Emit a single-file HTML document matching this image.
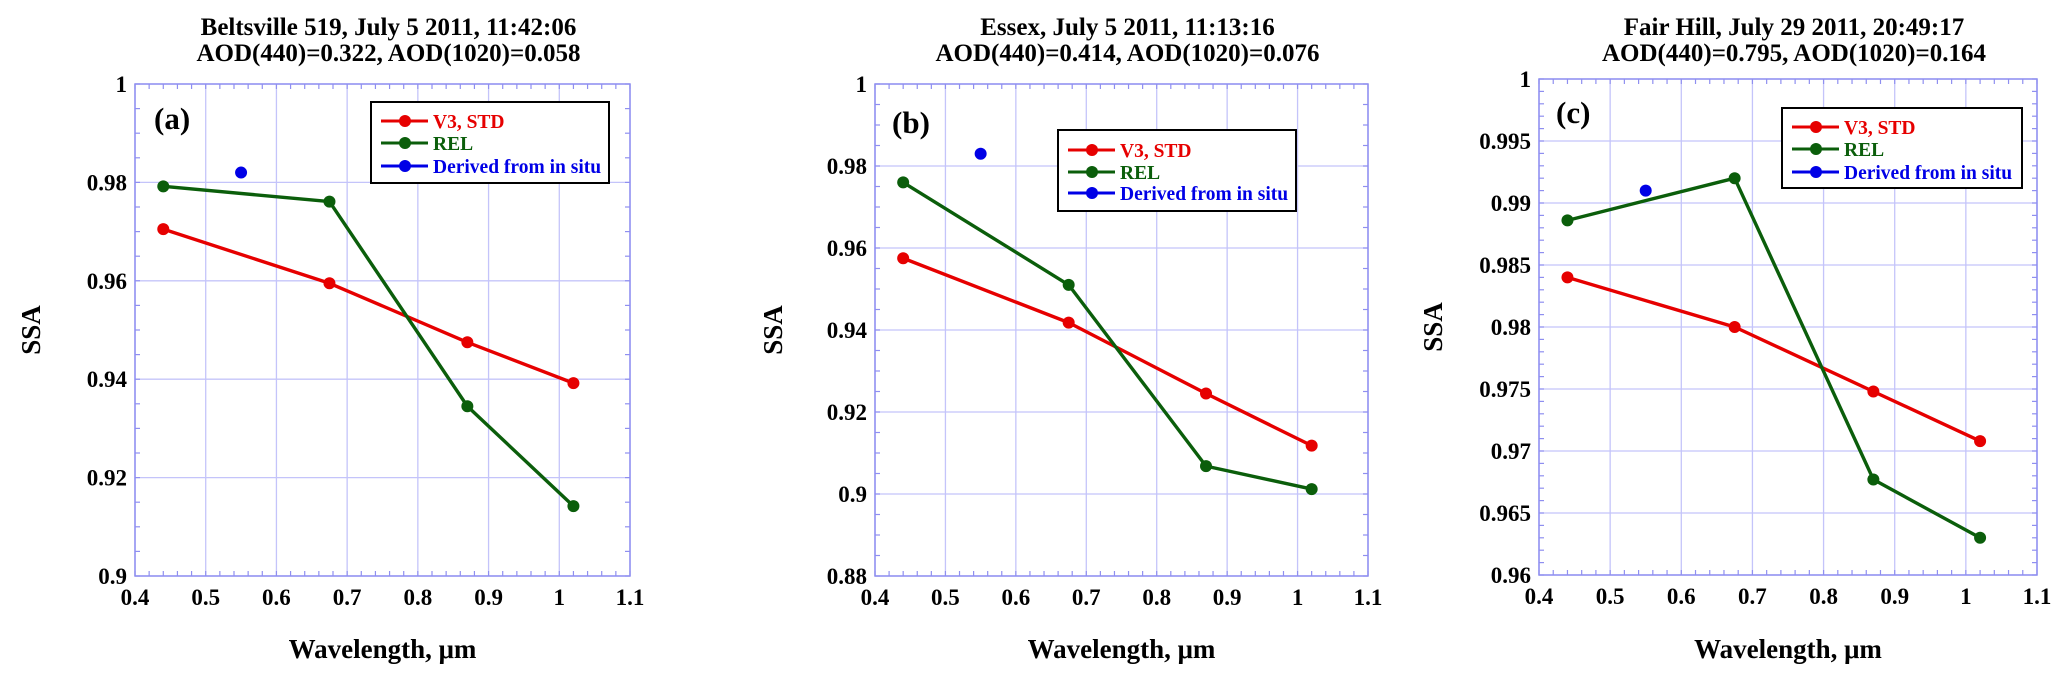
<!DOCTYPE html>
<html><head><meta charset="utf-8">
<style>
html,body{margin:0;padding:0;background:#fff;}
svg{display:block;}
text{font-family:"Liberation Serif",serif;font-weight:bold;fill:#000;}
</style></head>
<body>
<svg id="chart" width="2067" height="682" viewBox="0 0 2067 682" xmlns="http://www.w3.org/2000/svg"></svg>
<script>
// ---- data ----
const wavelengths = [0.44, 0.675, 0.87, 1.02];
const insituWavelength = [0.55];
const panelIds = ['a', 'b', 'c'];
const titles1 = ['Beltsville 519, July 5 2011, 11:42:06', 'Essex, July 5 2011, 11:13:16', 'Fair Hill, July 29 2011, 20:49:17'];
const titles2 = ['AOD(440)=0.322, AOD(1020)=0.058', 'AOD(440)=0.414, AOD(1020)=0.076', 'AOD(440)=0.795, AOD(1020)=0.164'];
const stdA = [0.9705, 0.9595, 0.9475, 0.9392];
const relA = [0.9792, 0.9761, 0.9345, 0.9142];
const insituA = [0.982];
const stdB = [0.9575, 0.9418, 0.9245, 0.9118];
const relB = [0.976, 0.951, 0.9068, 0.9012];
const insituB = [0.983];
const stdC = [0.984, 0.980, 0.9748, 0.9708];
const relC = [0.9886, 0.992, 0.9677, 0.963];
const insituC = [0.991];
const xTicks = [0.4, 0.5, 0.6, 0.7, 0.8, 0.9, 1, 1.1];
const xTickLabels = ['0.4', '0.5', '0.6', '0.7', '0.8', '0.9', '1', '1.1'];
const yTicksA = [0.9, 0.92, 0.94, 0.96, 0.98, 1];
const yTickLabelsA = ['0.9', '0.92', '0.94', '0.96', '0.98', '1'];
const yTicksB = [0.88, 0.9, 0.92, 0.94, 0.96, 0.98, 1];
const yTickLabelsB = ['0.88', '0.9', '0.92', '0.94', '0.96', '0.98', '1'];
const yTicksC = [0.96, 0.965, 0.97, 0.975, 0.98, 0.985, 0.99, 0.995, 1];
const yTickLabelsC = ['0.96', '0.965', '0.97', '0.975', '0.98', '0.985', '0.99', '0.995', '1'];
const legendLabels = ['V3, STD', 'REL', 'Derived from in situ'];

// ---- layout ----
const NS = 'http://www.w3.org/2000/svg';
const svg = document.getElementById('chart');
const RED = '#e60000', GREEN = '#0b5e0b', BLUE = '#0000e6', GRID = '#c4c4fa', FRAME = '#8f8ff0';
const layouts = [
  {l:135, r:630, t:84, b:576, ymin:0.9, ymax:1, minorY:0.005, yt:yTicksA, ytl:yTickLabelsA, std:stdA, rel:relA, ins:insituA,
   leg:{x:371, y:102, w:238, h:81, rows:[121,143,166]}, tag:{x:154,y:129}, ssaX:30},
  {l:875, r:1368, t:84, b:576, ymin:0.88, ymax:1, minorY:0.005, yt:yTicksB, ytl:yTickLabelsB, std:stdB, rel:relB, ins:insituB,
   leg:{x:1058, y:130, w:238, h:81, rows:[150,172,193]}, tag:{x:892,y:133}, ssaX:772},
  {l:1539, r:2037, t:79, b:575, ymin:0.96, ymax:1, minorY:0.001, yt:yTicksC, ytl:yTickLabelsC, std:stdC, rel:relC, ins:insituC,
   leg:{x:1782, y:108, w:240, h:80, rows:[127,149,172]}, tag:{x:1556,y:123}, ssaX:1432}
];

function mk(tag, attrs, parent) {
  const e = document.createElementNS(NS, tag);
  for (const k in attrs) e.setAttribute(k, attrs[k]);
  (parent || svg).appendChild(e);
  return e;
}

layouts.forEach((L, i) => {
  const g = mk('g', {});
  
  
  const xs = v => L.l + (v - 0.4) / 0.7 * (L.r - L.l);
  const ys = v => L.b - (v - L.ymin) / (L.ymax - L.ymin) * (L.b - L.t);
  const cx = (L.l + L.r) / 2;

  // titles
  let t = mk('text', {x:cx + 6, y:35, 'text-anchor':'middle', 'font-size':'25'}, g);
  t.textContent = titles1[i];
  
  
  t = mk('text', {x:cx + 6, y:61, 'text-anchor':'middle', 'font-size':'25'}, g);
  t.textContent = titles2[i];
  
  

  // grid
  xTicks.forEach(v => {
    const ln = mk('line', {x1:xs(v), x2:xs(v), y1:L.t, y2:L.b, stroke:GRID, 'stroke-width':1.3}, g);
    
    
  });
  L.yt.forEach(v => {
    const ln = mk('line', {x1:L.l, x2:L.r, y1:ys(v), y2:ys(v), stroke:GRID, 'stroke-width':1.3}, g);
    
    
  });
  // minor ticks
  for (let v = 0.4; v <= 1.1001; v += 0.02) {
    const X = xs(v);
    mk('line', {x1:X, x2:X, y1:L.b, y2:L.b - 5, stroke:FRAME, 'stroke-width':1.2}, g);
    mk('line', {x1:X, x2:X, y1:L.t, y2:L.t + 5, stroke:FRAME, 'stroke-width':1.2}, g);
  }
  for (let v = L.ymin; v <= L.ymax + 1e-9; v += L.minorY) {
    const Y = ys(v);
    mk('line', {x1:L.l, x2:L.l + 5, y1:Y, y2:Y, stroke:FRAME, 'stroke-width':1.2}, g);
    mk('line', {x1:L.r, x2:L.r - 5, y1:Y, y2:Y, stroke:FRAME, 'stroke-width':1.2}, g);
  }
  const fr = mk('rect', {x:L.l, y:L.t, width:L.r - L.l, height:L.b - L.t, fill:'none', stroke:FRAME, 'stroke-width':1.5}, g);
  
  

  // tick labels
  xTicks.forEach((v, k) => {
    const tx = mk('text', {x:xs(v), y:L.b + 29, 'text-anchor':'middle', 'font-size':'23'}, g);
    tx.textContent = xTickLabels[k];
    
    
  });
  L.yt.forEach((v, k) => {
    const tx = mk('text', {x:L.l - 8, y:ys(v) + 8, 'text-anchor':'end', 'font-size':'23'}, g);
    tx.textContent = L.ytl[k];
    
    
  });
  // axis titles
  const xt = mk('text', {x:cx, y:658, 'text-anchor':'middle', 'font-size':'27'}, g);
  xt.textContent = 'Wavelength, \u03bcm';
  
  
  const yt = mk('text', {x:0, y:0, 'text-anchor':'middle', 'font-size':'27', transform:'translate(' + (L.ssaX + 10) + ',' + ((L.t + L.b) / 2) + ') rotate(-90)'}, g);
  yt.textContent = 'SSA';
  
  

  // panel tag
  const tg = mk('text', {x:L.tag.x, y:L.tag.y, 'font-size':'31'}, g);
  tg.textContent = '(' + panelIds[i] + ')';
  
  

  // series
  function series(vals, xv, color, name, line) {
    const sg = mk('g', {}, g);
    
    
    if (line) {
      const pts = vals.map((v, k) => xs(xv[k]) + ',' + ys(v)).join(' ');
      const pl = mk('polyline', {points:pts, fill:'none', stroke:color, 'stroke-width':3.4, 'stroke-linejoin':'round'}, sg);
      
      
    }
    vals.forEach((v, k) => {
      const c = mk('circle', {cx:xs(xv[k]), cy:ys(v), r:6, fill:color}, sg);
      
      
    });
  }
  series(L.std, wavelengths, RED, 'series-v3-std', true);
  series(L.rel, wavelengths, GREEN, 'series-rel', true);
  series(L.ins, insituWavelength, BLUE, 'series-in-situ', false);

  // legend
  const lg = mk('g', {}, g);
  
  
  mk('rect', {x:L.leg.x, y:L.leg.y, width:L.leg.w, height:L.leg.h, fill:'#fff', stroke:'#000', 'stroke-width':2}, lg);
  const cols = [RED, GREEN, BLUE];
  legendLabels.forEach((lab, k) => {
    const e = mk('g', {}, lg);
    
    
    const y = L.leg.rows[k];
    mk('line', {x1:L.leg.x + 10, x2:L.leg.x + 57, y1:y, y2:y, stroke:cols[k], 'stroke-width':3}, e);
    mk('circle', {cx:L.leg.x + 34, cy:y, r:6, fill:cols[k]}, e);
    const tx = mk('text', {x:L.leg.x + 62, y:y + 7, 'font-size':'19.5', fill:cols[k]}, e);
    tx.style.fill = cols[k];
    tx.textContent = lab;
  });
});
</script>
</body></html>
